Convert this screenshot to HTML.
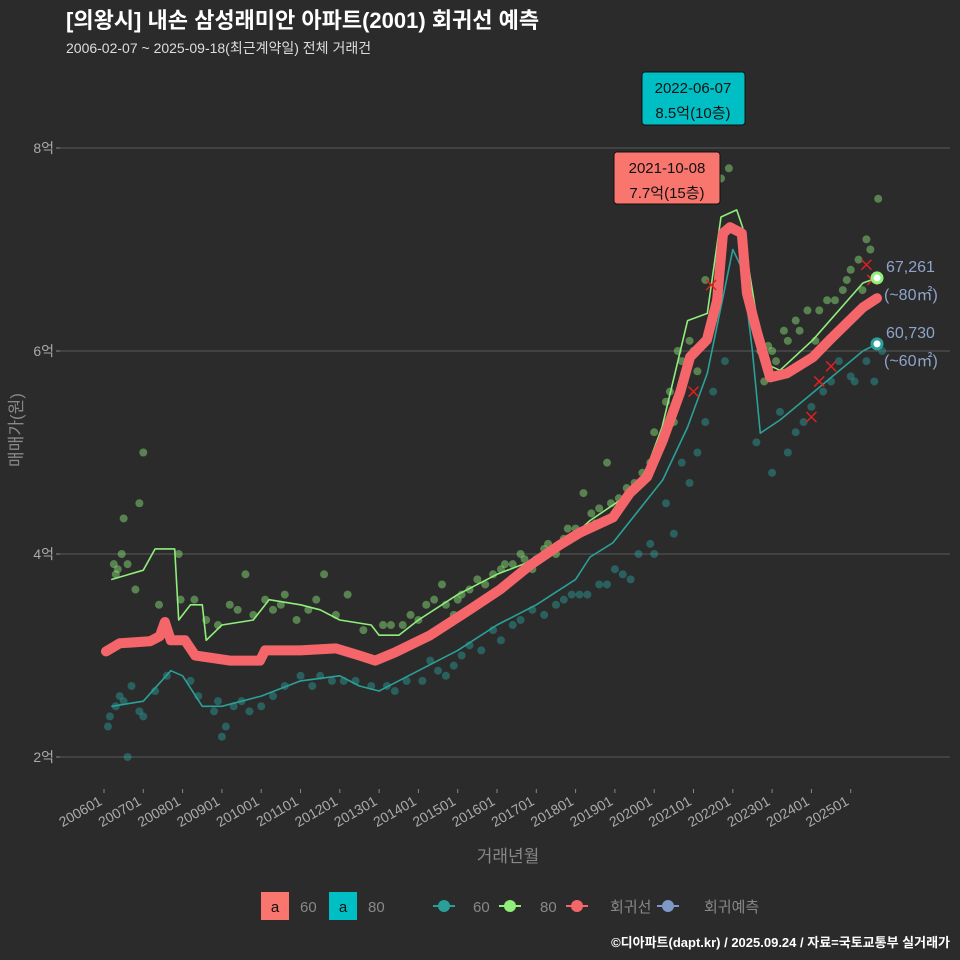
<!DOCTYPE html>
<html><head><meta charset="utf-8"><style>
body{margin:0;background:#2b2b2c;}
svg{display:block;font-family:"Liberation Sans","Noto Sans CJK KR",sans-serif;}
</style></head><body>
<svg id="c" width="960" height="960" xmlns="http://www.w3.org/2000/svg">
<rect width="960" height="960" fill="#2b2b2c"/>
<text x="66" y="28" fill="#fff" font-size="22" font-weight="bold">[의왕시] 내손 삼성래미안 아파트(2001) 회귀선 예측</text>
<text x="66" y="53" fill="#ddd" font-size="14">2006-02-07 ~ 2025-09-18(최근계약일) 전체 거래건</text>
<g id="grid"></g><g id="pts"></g><g id="lines"></g><g id="axes"></g>
<text x="22" y="430" fill="#888" font-size="17" transform="rotate(-90 22 430)" text-anchor="middle">매매가(원)</text>
<text x="508" y="862" fill="#888" font-size="17" text-anchor="middle">거래년월</text>
<g>
<rect x="642" y="72" width="103" height="53" rx="3" fill="#00bfc4" stroke="#111"/>
<text x="693" y="93" font-size="15" text-anchor="middle" fill="#111">2022-06-07</text>
<text x="693" y="118" font-size="15" text-anchor="middle" fill="#111">8.5억(10층)</text></g>
<g>
<rect x="614" y="152" width="106" height="52" rx="3" fill="#f8766d" stroke="#111"/>
<text x="667" y="173" font-size="15" text-anchor="middle" fill="#111">2021-10-08</text>
<text x="667" y="198" font-size="15" text-anchor="middle" fill="#111">7.7억(15층)</text></g>
<g fill="#8fa4c9" font-size="16">
<text x="886" y="272">67,261</text>
<text x="884" y="300">(~80㎡)</text>
<text x="886" y="338">60,730</text>
<text x="884" y="366">(~60㎡)</text></g>
<g font-size="15" fill="#888">
<rect x="261" y="892" width="28" height="28" fill="#f8766d"/><text x="275" y="912" fill="#111" text-anchor="middle">a</text>
<text x="300" y="912">60</text>
<rect x="329" y="892" width="28" height="28" fill="#00bfc4"/><text x="343" y="912" fill="#111" text-anchor="middle">a</text>
<text x="368" y="912">80</text>
<line x1="433" y1="906" x2="455" y2="906" stroke="#2aa198" stroke-width="2"/><circle cx="444" cy="906" r="6" fill="#2aa198"/><text x="473" y="912">60</text>
<line x1="499" y1="906" x2="521" y2="906" stroke="#90ee7a" stroke-width="2"/><circle cx="510" cy="906" r="6" fill="#90ee7a"/><text x="540" y="912">80</text>
<line x1="566" y1="906" x2="588" y2="906" stroke="#f4666a" stroke-width="2"/><circle cx="577" cy="906" r="6" fill="#f4666a"/><text x="610" y="912">회귀선</text>
<line x1="657" y1="906" x2="679" y2="906" stroke="#7f98c8" stroke-width="2"/><circle cx="668" cy="906" r="6" fill="#7f98c8"/><text x="704" y="912">회귀예측</text>
</g>
<text x="950" y="947" fill="#fff" font-size="13" font-weight="bold" text-anchor="end">©디아파트(dapt.kr) / 2025.09.24 / 자료=국토교통부 실거래가</text>
</svg>
<script>
const yTicks=[2,4,6,8];
const xYears=[2006,2007,2008,2009,2010,2011,2012,2013,2014,2015,2016,2017,2018,2019,2020,2021,2022,2023,2024,2025];
const regT=[2006.05,2006.4,2007.17,2007.42,2007.55,2007.7,2008.06,2008.32,2009.2,2009.97,2010.1,2011,2011.9,2012.5,2012.9,2013.4,2014.3,2015.3,2016.08,2016.84,2017.6,2018.11,2018.95,2019.38,2019.82,2020.22,2020.66,2020.91,2021.34,2021.6,2021.75,2021.93,2022.23,2022.36,2022.62,2022.95,2023.38,2024.04,2024.47,2025.31,2025.67];
const regV=[3.04,3.12,3.14,3.19,3.33,3.15,3.15,3.0,2.95,2.95,3.05,3.05,3.07,3.0,2.95,3.03,3.2,3.45,3.65,3.89,4.09,4.21,4.36,4.6,4.76,5.12,5.59,5.94,6.11,6.5,7.16,7.22,7.16,6.57,6.18,5.74,5.78,5.94,6.11,6.43,6.52];
const g80T=[2006.2,2007.0,2007.3,2007.8,2007.9,2008.2,2008.5,2008.6,2009.0,2009.8,2010.2,2011.0,2011.5,2012.0,2012.8,2013.0,2013.5,2014.0,2015.0,2016.0,2017.0,2018.0,2018.37,2019.4,2019.8,2020.2,2020.85,2021.35,2021.7,2022.1,2022.25,2022.4,2022.8,2023.2,2024.04,2025.31,2025.67];
const g80V=[3.75,3.84,4.05,4.05,3.35,3.5,3.5,3.15,3.3,3.35,3.55,3.5,3.45,3.35,3.3,3.2,3.2,3.35,3.6,3.8,3.95,4.2,4.33,4.6,4.83,5.25,6.3,6.37,7.32,7.39,7.22,6.83,5.88,5.81,6.11,6.67,6.72];
const s60T=[2006.2,2007.0,2007.7,2008.0,2008.5,2009.0,2010.0,2011.0,2012.0,2012.5,2013.0,2014.0,2015.0,2016.0,2017.0,2018.0,2018.37,2018.95,2020.22,2020.85,2021.35,2022.0,2022.25,2022.5,2022.7,2023.2,2024.04,2025.31,2025.67];
const s60V=[2.5,2.55,2.85,2.8,2.5,2.5,2.6,2.75,2.8,2.7,2.65,2.85,3.05,3.3,3.5,3.75,3.97,4.11,4.73,5.25,5.78,7.0,6.8,6.0,5.19,5.32,5.59,6.0,6.07];
const p80T=[2006.3,2006.5,2006.9,2007.0,2007.9,2008.6,2009.2,2009.6,2010.1,2010.6,2011.2,2011.6,2012.2,2013.3,2013.8,2014.2,2014.6,2015.1,2015.5,2016.2,2016.6,2017.3,2017.8,2018.4,2018.8,2019.5,2019.9,2020.3,2020.6,2020.9,2021.3,2021.7,2021.9,2022.1,2022.6,2023.0,2023.4,2023.7,2024.2,2024.6,2024.9,2025.2,2025.5,2025.7,2006.6,2007.95,2010.3,2014.9,2016.9,2018.2,
2006.25,2006.35,2006.45,2006.8,2007.4,2008.3,2008.9,2009.4,2009.8,2010.5,2010.9,2011.4,2011.9,2012.6,2013.1,2013.6,2014.0,2014.4,2014.7,2015.0,2015.3,2015.7,2015.9,2016.1,2016.4,2016.7,2017.0,2017.2,2017.5,2017.7,2018.0,2018.5,2018.6,2018.9,2019.1,2019.3,2019.7,2020.0,2020.1,2020.4,2020.5,2020.7,2021.0,2021.1,2021.5,2021.6,2022.7,2022.8,2022.9,2023.1,2023.3,2023.6,2023.9,2024.1,2024.4,2024.8,2025.0,2025.3,2025.4];
const p80V=[3.8,4.35,4.5,5.0,4.0,3.35,3.5,3.8,3.55,3.6,3.45,3.8,3.6,3.3,3.4,3.5,3.7,3.6,3.75,3.9,4.0,4.1,4.25,4.4,4.9,4.7,4.9,5.5,6.0,6.1,6.7,7.7,7.8,8.5,6.2,6.0,6.1,6.2,6.4,6.5,6.7,6.9,7.0,7.5,3.9,3.55,3.45,3.4,3.85,4.6,
3.9,3.85,4.0,3.65,3.5,3.55,3.3,3.45,3.4,3.5,3.35,3.55,3.4,3.25,3.3,3.3,3.35,3.55,3.5,3.55,3.65,3.7,3.8,3.85,3.9,3.95,3.95,4.05,4.0,4.15,4.25,4.3,4.45,4.5,4.55,4.65,4.8,5.2,5.0,5.6,5.3,5.9,6.0,5.8,6.3,6.6,6.0,5.7,6.05,5.9,6.2,6.3,6.4,6.1,6.5,6.6,6.8,6.6,7.1];
const p60T=[2006.1,2006.4,2006.6,2007.0,2007.6,2008.2,2008.8,2009.0,2009.5,2010.3,2011.0,2011.8,2012.4,2013.2,2013.7,2014.3,2014.9,2015.3,2015.9,2016.4,2016.9,2017.5,2017.9,2018.3,2018.8,2019.2,2019.6,2020.0,2020.5,2020.9,2021.3,2022.6,2023.0,2023.4,2023.8,2024.3,2024.7,2025.1,2025.6,2006.7,
2006.15,2006.3,2006.5,2006.9,2007.3,2008.4,2008.9,2009.1,2009.3,2009.7,2010.0,2010.6,2011.3,2011.5,2012.1,2012.8,2013.4,2014.1,2014.5,2014.7,2015.1,2015.6,2016.1,2016.6,2017.2,2017.7,2018.1,2018.6,2019.0,2019.4,2019.9,2020.3,2020.7,2021.1,2021.5,2021.8,2023.2,2023.6,2024.0,2024.5,2025.0,2025.4,2025.8];
const p60V=[2.3,2.6,2.0,2.4,2.8,2.75,2.45,2.2,2.55,2.6,2.8,2.75,2.75,2.7,2.75,2.95,2.9,3.1,3.25,3.3,3.45,3.5,3.6,3.6,3.7,3.8,4.0,4.0,4.2,4.7,5.3,5.1,4.8,5.0,5.3,5.6,5.9,5.7,5.7,2.7,
2.4,2.5,2.55,2.45,2.65,2.6,2.55,2.3,2.5,2.45,2.5,2.7,2.7,2.8,2.75,2.7,2.65,2.75,2.85,2.8,3.0,3.05,3.15,3.35,3.4,3.55,3.6,3.7,3.85,3.75,4.1,4.5,4.9,5.0,5.6,5.9,5.4,5.2,5.45,5.7,5.75,5.9,6.0];
const xMarkT=[2021.45,2021.0,2024.5,2024.0,2025.4,2025.55,2024.2];
const xMarkV=[6.65,5.6,5.85,5.35,6.85,6.7,5.7];
const NS="http://www.w3.org/2000/svg";
const X=t=>104+(t-2006)*39.3, Y=v=>757-(v-2)*101.5;
function mk(tag,attrs,parent){const e=document.createElementNS(NS,tag);for(const k in attrs)e.setAttribute(k,attrs[k]);parent.appendChild(e);return e;}
const grid=document.getElementById('grid'),axes=document.getElementById('axes'),pts=document.getElementById('pts'),lines=document.getElementById('lines');
yTicks.forEach(v=>{const l=mk('line',{x1:60,x2:950,y1:Y(v),y2:Y(v),stroke:'#5a5a5a','stroke-width':1},grid);


mk('line',{x1:56,x2:60,y1:Y(v),y2:Y(v),stroke:'#888'},axes);
const t=mk('text',{x:54,y:Y(v)+5,fill:'#aaa','font-size':14,'text-anchor':'end'},axes);t.textContent=v+'억';

});
xYears.forEach(yr=>{const x=X(yr);mk('line',{x1:x,x2:x,y1:789,y2:793,stroke:'#888'},axes);
const t=mk('text',{x:x-1,y:804,fill:'#aaa','font-size':14,'text-anchor':'end',transform:`rotate(-30 ${x-1} 804)`},axes);t.textContent=yr+'01';

});
p60T.forEach((t,i)=>{const c=mk('circle',{cx:X(t),cy:Y(p60V[i]),r:4,fill:'#2aa198','fill-opacity':0.45},pts);

});
p80T.forEach((t,i)=>{const c=mk('circle',{cx:X(t),cy:Y(p80V[i]),r:4,fill:'#90ee7a','fill-opacity':0.45},pts);

});
function path(T,V,col,w,name){const p=mk('path',{d:T.map((t,i)=>(i?'L':'M')+X(t).toFixed(1)+','+Y(V[i]).toFixed(1)).join(''),fill:'none',stroke:col,'stroke-width':w,'stroke-linejoin':'round','stroke-linecap':'round'},lines);

}
path(s60T,s60V,'#2aa198',1.6,'line-60');
path(g80T,g80V,'#90ee7a',1.6,'line-80');
path(regT,regV,'#f4666a',10,'regression-line');
xMarkT.forEach((t,i)=>{const x=X(t),y=Y(xMarkV[i]);const g=mk('path',{d:`M${x-5},${y-5}L${x+5},${y+5}M${x-5},${y+5}L${x+5},${y-5}`,stroke:'#e02020','stroke-width':1.5},lines);

});
const e80=mk('circle',{cx:X(g80T[g80T.length-1]),cy:Y(g80V[g80V.length-1]),r:5,fill:'#fff',stroke:'#90ee7a','stroke-width':3},lines);


const e60=mk('circle',{cx:X(s60T[s60T.length-1]),cy:Y(s60V[s60V.length-1]),r:5,fill:'#fff',stroke:'#2aa198','stroke-width':3},lines);


</script>
</body></html>
